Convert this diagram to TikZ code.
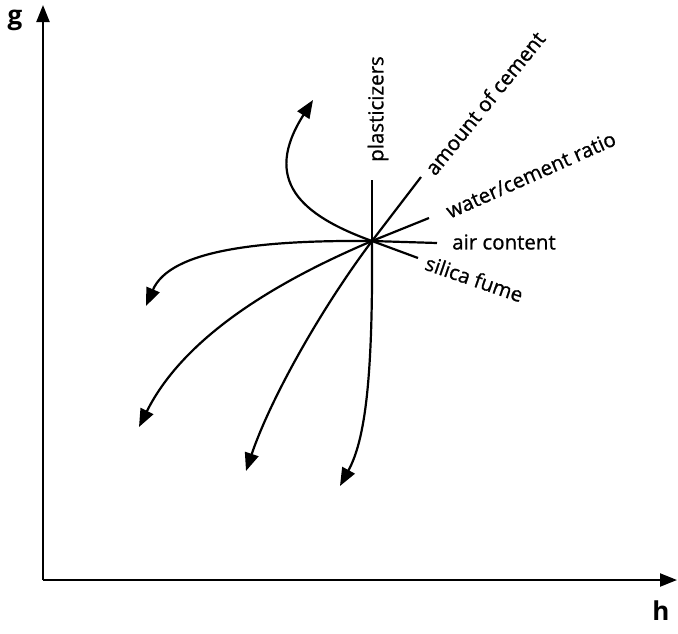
\documentclass[tikz,border=0pt]{standalone}
\usepackage{fontspec}
\setmainfont{Open Sans}
\newfontfamily\lblfont[FakeBold=0.9]{Open Sans}
\usetikzlibrary{arrows.meta}
\begin{document}
\begin{tikzpicture}[x=1pt,y=-1pt,
  axis/.style={line width=2.2pt,-{Triangle[length=17pt,width=13pt]}},
  spoke/.style={line width=2.2pt},
  curvearrow/.style={line width=2.2pt,-{Triangle[length=18pt,width=14pt]}},
  lbl/.style={font=\lblfont\fontsize{20.5}{22}\selectfont,inner sep=0pt},
  axlbl/.style={font=\fontsize{26}{28}\selectfont\bfseries,inner sep=0pt}]
\useasboundingbox (0,0) rectangle (678,633);
% axes
\coordinate (O) at (43,580);
\coordinate (Ytop) at (43,5);
\coordinate (Xend) at (677,580);
\draw[axis] (O) -- (Ytop);
\draw[axis] (O) -- (Xend);
\node[axlbl] (g) at (15,20) {g};
\node[axlbl] (h) at (661,611) {h};
% center
\coordinate (C) at (372,241);
\coordinate (Pl) at (372,180);
\coordinate (Am) at (421,177);
\coordinate (Wc) at (429,218);
\coordinate (Ai) at (437,243);
\coordinate (Si) at (418,258);
\draw[spoke] (C) -- (Pl);
\draw[spoke] (C) -- (Am);
\draw[spoke] (C) -- (Wc);
\draw[spoke] (C) -- (Ai);
\draw[spoke] (C) -- (Si);
\node[lbl,rotate=90,anchor=west] (tpl) at (378,162) {plasticizers};
\node[lbl,rotate=51,anchor=west] (tam) at (429,172) {amount of cement};
\node[lbl,rotate=24,anchor=west] (twc) at (447,212) {water/cement ratio};
\node[lbl,anchor=west] (tai) at (452,242) {air content};
\node[lbl,rotate=-19,anchor=west] (tsi) at (426,262) {silica fume};
% curved arrows
\coordinate (A1) at (313,100);
\coordinate (A2) at (146,306);
\coordinate (A3) at (139,427);
\coordinate (A4) at (246,471);
\coordinate (A5) at (340,486);
\draw[curvearrow] (C) .. controls (300,215) and (262,180) .. (A1);
\draw[curvearrow] (C) .. controls (260,240) and (170,250) .. (A2);
\draw[curvearrow] (C) .. controls (280,280) and (185,335) .. (A3);
\draw[curvearrow] (C) .. controls (320,310) and (270,400) .. (A4);
\draw[curvearrow] (C) .. controls (373,380) and (365,440) .. (A5);
\end{tikzpicture}
\end{document}
